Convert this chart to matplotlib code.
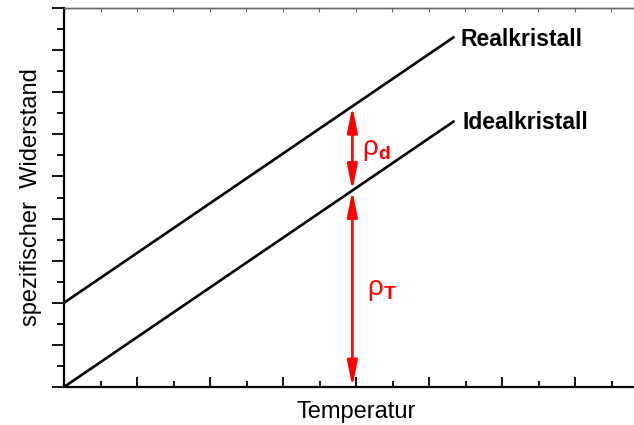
import matplotlib
matplotlib.use("Agg")
import matplotlib.pyplot as plt
from matplotlib.ticker import MultipleLocator

plt.rcParams["font.family"] = ["Liberation Sans", "DejaVu Sans"]
plt.rcParams["mathtext.fontset"] = "custom"
plt.rcParams["mathtext.bf"] = "Liberation Sans:bold"
plt.rcParams["mathtext.rm"] = "Liberation Sans"

# resistivity vs. temperature, arbitrary units
x_line = [0.0, 5.35]
ideal = [0.0, 6.32]        # ideal crystal: phonon part only
real = [2.0, 8.32]         # real crystal: shifted by the defect part
x_arrow = 3.95
rho_ideal_at = ideal[0] + (ideal[1] - ideal[0]) * x_arrow / x_line[1]
rho_real_at = real[0] + (real[1] - real[0]) * x_arrow / x_line[1]

fig = plt.figure(figsize=(6.34, 4.25), dpi=100)
ax = fig.add_axes([64 / 634, 38 / 425, 584 / 634, 379 / 425])
ax.set_xlim(0, 8)
ax.set_ylim(0, 9)

ax.plot(x_line, real, color="black", lw=1.9, solid_capstyle="butt")
ax.plot(x_line, ideal, color="black", lw=1.9, solid_capstyle="butt")

arrow = dict(arrowstyle="<|-|>,head_length=1.1,head_width=0.22",
             color="red", lw=1.9, mutation_scale=14, shrinkA=0, shrinkB=0)
ax.annotate("", xy=(x_arrow, rho_real_at), xytext=(x_arrow, rho_ideal_at),
            arrowprops=arrow)
ax.annotate("", xy=(x_arrow, rho_ideal_at), xytext=(x_arrow, 0),
            arrowprops=arrow, annotation_clip=False)

ax.text(4.08, 5.62, r"ρ$_\mathbf{d}$", color="red", fontsize=20,
        va="center", ha="left")
ax.text(4.15, 2.30, r"ρ$_\mathbf{T}$", color="red", fontsize=20,
        va="center", ha="left")

ax.text(5.43, 8.09, "Realkristall", fontsize=16.5, fontweight="bold",
        va="baseline", ha="left")
ax.text(5.46, 6.12, "Idealkristall", fontsize=16.5, fontweight="bold",
        va="baseline", ha="left")

ax.set_xlabel("Temperatur", fontsize=17, labelpad=7)
ax.set_ylabel("spezifischer  Widerstand", fontsize=17, labelpad=7)

for s in ("left", "bottom"):
    ax.spines[s].set_linewidth(1.6)
ax.spines["top"].set_linewidth(1.0)
ax.spines["top"].set_color("#666666")
ax.spines["right"].set_visible(False)

ax.xaxis.set_major_locator(MultipleLocator(1))
ax.xaxis.set_minor_locator(MultipleLocator(0.5))
ax.yaxis.set_major_locator(MultipleLocator(1))
ax.yaxis.set_minor_locator(MultipleLocator(0.5))
ax.tick_params(axis="x", which="major", direction="in", length=7, width=1.3,
               labelbottom=False)
ax.tick_params(axis="x", which="minor", direction="in", length=4, width=1.3)
ax.tick_params(axis="y", which="major", direction="out", length=9, width=1.3,
               labelleft=False)
ax.tick_params(axis="y", which="minor", direction="out", length=5, width=1.3)

top = ax.secondary_xaxis("top")
top.xaxis.set_major_locator(MultipleLocator(0.5))
top.tick_params(direction="in", length=3, width=0.8, color="#666666",
                labeltop=False)
top.spines["top"].set_color("#666666")
top.spines["top"].set_linewidth(1.0)

fig.savefig("out.png", dpi=100)
